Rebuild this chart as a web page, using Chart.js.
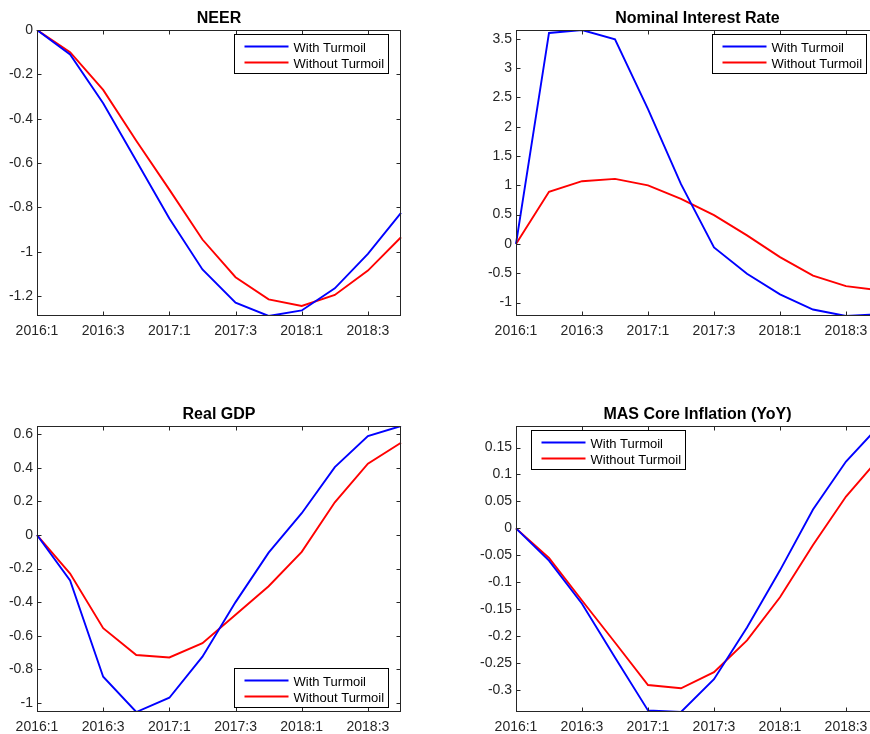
<!DOCTYPE html>
<html>
<head>
<meta charset="utf-8">
<script src="https://cdn.jsdelivr.net/npm/chart.js@4"></script>
<style>
html, body { margin: 0; padding: 0; width: 870px; height: 734px; overflow: hidden; background: #fff; }
.panel { position: absolute; }
</style>
</head>
<body>
<div class="panel" style="left:0;top:0"><canvas id="neer" width="420" height="340"></canvas></div>
<div class="panel" style="left:479px;top:0"><canvas id="rate" width="420" height="340"></canvas></div>
<div class="panel" style="left:0;top:396px"><canvas id="gdp" width="420" height="340"></canvas></div>
<div class="panel" style="left:479px;top:396px"><canvas id="infl" width="420" height="340"></canvas></div>
<script>
// quarters on the x axis, only every other one gets a label
const quarters = ['2016:1', '2016:2', '2016:3', '2016:4', '2017:1', '2017:2', '2017:3', '2017:4', '2018:1', '2018:2', '2018:3', '2018:4']
const xTickLabels = ['2016:1', '2016:3', '2017:1', '2017:3', '2018:1', '2018:3']
const seriesNames = ['With Turmoil', 'Without Turmoil']

const neerWith = [0, -0.11, -0.33, -0.59, -0.85, -1.08, -1.23, -1.29, -1.265, -1.165, -1.01, -0.825]
const neerWithout = [0, -0.10, -0.27, -0.50, -0.72, -0.945, -1.115, -1.215, -1.245, -1.195, -1.085, -0.935]
const neerTicks = [-1.2, -1, -0.8, -0.6, -0.4, -0.2, 0]

const rateWith = [0, 3.6, 3.65, 3.49, 2.3, 1.02, -0.06, -0.51, -0.86, -1.12, -1.23, -1.2]
const rateWithout = [0, 0.89, 1.07, 1.11, 1.0, 0.77, 0.49, 0.145, -0.225, -0.54, -0.72, -0.79]
const rateTicks = [-1, -0.5, 0, 0.5, 1, 1.5, 2, 2.5, 3, 3.5]

const gdpWith = [0, -0.27, -0.845, -1.055, -0.97, -0.725, -0.4, -0.105, 0.13, 0.405, 0.59, 0.65]
const gdpWithout = [0, -0.23, -0.555, -0.715, -0.73, -0.645, -0.475, -0.305, -0.1, 0.195, 0.425, 0.55]
const gdpTicks = [-1, -0.8, -0.6, -0.4, -0.2, 0, 0.2, 0.4, 0.6]

const inflWith = [0, -0.06, -0.14, -0.24, -0.338, -0.341, -0.28, -0.184, -0.078, 0.035, 0.124, 0.19]
const inflWithout = [0, -0.055, -0.134, -0.212, -0.291, -0.297, -0.267, -0.208, -0.128, -0.031, 0.059, 0.13]
const inflTicks = [-0.3, -0.25, -0.2, -0.15, -0.1, -0.05, 0, 0.05, 0.1, 0.15]

const FONT = '"Liberation Sans", Arial, Helvetica, sans-serif'
const AXIS = '#262626'
Chart.defaults.font.family = FONT

// matlab style box, inward ticks, title and boxed legend
const matlabBox = {
    id: 'matlabBox',
    afterDatasetsDraw(chart, args, opts) {
        const ctx = chart.ctx
        const a = chart.chartArea
        const x = chart.scales.x
        const y = chart.scales.y
        const L = Math.round(a.left) + 0.5, R = Math.round(a.right) - 0.5
        const T = Math.round(a.top) + 0.5, B = Math.round(a.bottom) - 0.5
        ctx.save()
        ctx.strokeStyle = AXIS
        ctx.lineWidth = 1
        ctx.beginPath()
        x.ticks.forEach((t, i) => {
            if (!xTickLabels.includes(quarters[i])) return
            const px = Math.round(x.getPixelForTick(i)) + 0.5
            ctx.moveTo(px, B); ctx.lineTo(px, B - 4)
            ctx.moveTo(px, T); ctx.lineTo(px, T + 4)
        })
        y.ticks.forEach(t => {
            const py = Math.round(y.getPixelForValue(t.value)) + 0.5
            ctx.moveTo(L, py); ctx.lineTo(L + 4, py)
            ctx.moveTo(R, py); ctx.lineTo(R - 4, py)
        })
        ctx.stroke()
        ctx.strokeRect(L, T, R - L, B - T)

        // title
        ctx.fillStyle = '#000'
        ctx.font = 'bold 16px ' + FONT
        ctx.textAlign = 'center'
        ctx.textBaseline = 'alphabetic'
        ctx.fillText(opts.title, (a.left + a.right) / 2, a.top - 7.5)

        // legend
        const w = 154, h = 39
        let lx, ly
        if (opts.legend === 'tr') { lx = a.right - 13 - w; ly = a.top + 4 }
        else if (opts.legend === 'br') { lx = a.right - 13 - w; ly = a.bottom - 5 - h }
        else { lx = a.left + 15; ly = a.top + 4 }
        lx = Math.round(lx) + 0.5; ly = Math.round(ly) + 0.5
        ctx.fillStyle = '#fff'
        ctx.fillRect(lx, ly, w, h)
        ctx.strokeStyle = '#000'
        ctx.strokeRect(lx, ly, w, h)
        ctx.font = '13px ' + FONT
        ctx.textAlign = 'left'
        chart.data.datasets.forEach((ds, i) => {
            const ry = ly + 12 + i * 16
            ctx.strokeStyle = ds.borderColor
            ctx.lineWidth = 1.8
            ctx.beginPath()
            ctx.moveTo(lx + 10, ry); ctx.lineTo(lx + 54, ry)
            ctx.stroke()
            ctx.fillStyle = '#000'
            ctx.fillText(ds.label, lx + 59, ry + 5.3)
        })
        ctx.restore()
    }
}

function fmt(v) {
    return String(Math.round(v * 1000) / 1000)
}

function makePanel(id, title, withData, withoutData, yTicks, legendPos, padRight) {
    const all = withData.concat(withoutData)
    const ctx = document.getElementById(id).getContext('2d')
    return new Chart(ctx, {
        type: 'line',
        data: {
            labels: quarters,
            datasets: [
                { label: seriesNames[0], data: withData, borderColor: '#0000ff', borderWidth: 1.9, pointRadius: 0, tension: 0, fill: false },
                { label: seriesNames[1], data: withoutData, borderColor: '#ff0000', borderWidth: 1.9, pointRadius: 0, tension: 0, fill: false }
            ]
        },
        options: {
            responsive: false,
            animation: false,
            events: [],
            layout: { padding: { top: 30, right: padRight, left: 0, bottom: 0 } },
            plugins: {
                legend: { display: false },
                tooltip: { enabled: false },
                matlabBox: { title: title, legend: legendPos }
            },
            scales: {
                x: {
                    type: 'category',
                    offset: false,
                    grid: { display: false, drawTicks: false },
                    border: { display: false },
                    ticks: {
                        autoSkip: false,
                        maxRotation: 0,
                        minRotation: 0,
                        padding: 7,
                        color: AXIS,
                        font: { size: 14 },
                        callback: function (v) {
                            const lab = this.getLabelForValue(v)
                            return xTickLabels.includes(lab) ? lab : ''
                        }
                    },
                    afterFit: s => { s.height = 24 }
                },
                y: {
                    type: 'linear',
                    min: Math.min(...all),
                    max: Math.max(...all),
                    grid: { display: false, drawTicks: false },
                    border: { display: false },
                    ticks: {
                        padding: 4,
                        color: AXIS,
                        font: { size: 14 },
                        callback: v => fmt(v)
                    },
                    afterBuildTicks: s => { s.ticks = yTicks.map(v => ({ value: v })) },
                    afterFit: s => { s.width = 37 }
                }
            }
        },
        plugins: [matlabBox]
    })
}

makePanel('neer', 'NEER', neerWith, neerWithout, neerTicks, 'tr', 19)
makePanel('rate', 'Nominal Interest Rate', rateWith, rateWithout, rateTicks, 'tr', 20)
makePanel('gdp', 'Real GDP', gdpWith, gdpWithout, gdpTicks, 'br', 19)
makePanel('infl', 'MAS Core Inflation (YoY)', inflWith, inflWithout, inflTicks, 'tl', 20)
</script>
</body>
</html>
